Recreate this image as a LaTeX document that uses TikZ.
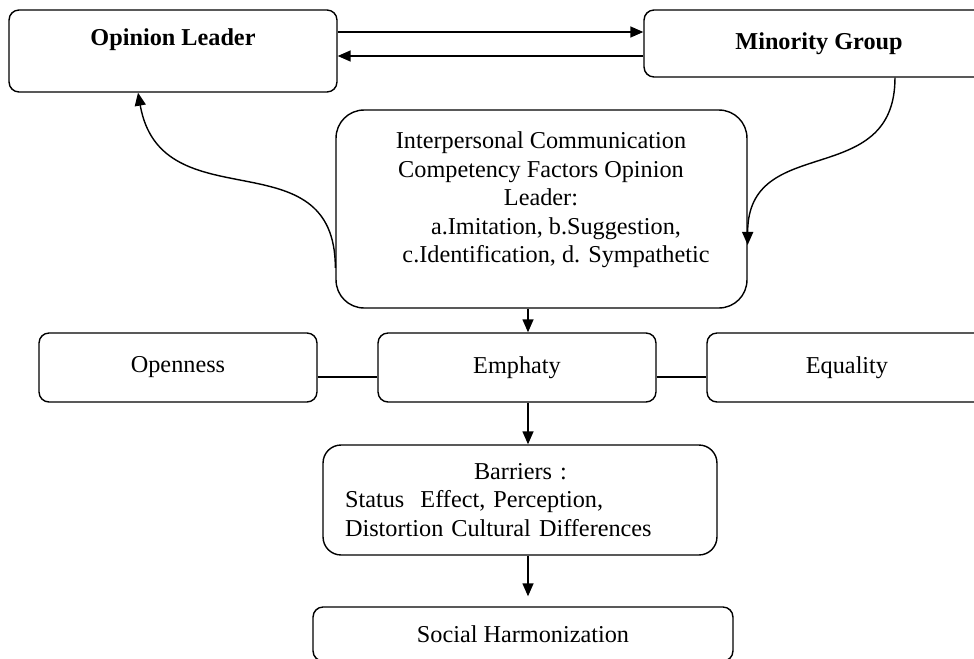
\documentclass[tikz,border=0pt]{standalone}
\usepackage{fontspec}
\setmainfont{Liberation Serif}
\usetikzlibrary{arrows.meta}

\tikzset{
	box/.style = {draw, line width=0.8pt, rounded corners=0.2cm, inner sep=0pt},
	arr/.style = {line width=0.8pt, -{Triangle[length=0.26cm, width=0.22cm]}},
	link/.style = {line width=0.8pt}
}

\begin{document}
\begin{tikzpicture}[x=0.02cm, y=-0.02cm, font=\fontsize{13.8}{16.2}\selectfont]
	\clip (0,0) rectangle (974,659);
	\coordinate (hi) at (0,32);
	\coordinate (lo) at (0,56);
	\coordinate (axis) at (528,0);

	\node [box, minimum width=6.56cm, minimum height=1.64cm] (leader) at (173,51) {};
	\node (leadertext) at (173,40) {\bfseries Opinion Leader};
	\node [box, minimum width=7cm, minimum height=1.34cm] (minority) at (819,43.5) {\bfseries Minority Group};

	\node [box, rounded corners=0.56cm, minimum width=8.22cm, minimum height=3.96cm] (factors) at (541.5,209) {};
	\node [align=center] (factorstext) at (541,200) {Interpersonal Communication\\
		Competency Factors Opinion\\
		Leader:\\
		\hspace*{0.6cm}a.Imitation, b.Suggestion,\\
		\hspace*{0.6cm}c.Identification, d. Sympathetic};

	\node [box, minimum width=5.56cm, minimum height=1.38cm] (open) at (178,367.5) {Openness};
	\node [box, minimum width=5.56cm, minimum height=1.38cm] (emph) at (517,367.5) {Emphaty};
	\node [box, minimum width=5.6cm, minimum height=1.38cm] (equal) at (847,367.5) {Equality};

	\node [box, rounded corners=0.36cm, text width=7cm, align=left, inner xsep=0.44cm,
		minimum height=2.2cm] (barriers) at (520,500) {\hspace*{2.58cm}Barriers :\\
		Status~ Effect, Perception,\\
		Distortion Cultural Differences};

	\node [box, minimum width=8.4cm, minimum height=1.08cm] (social) at (523,634) {Social Harmonization};

	% top exchange
	\draw [arr] (leader.east |- hi) -- (minority.west |- hi);
	\draw [arr] (minority.west |- lo) -- (leader.east |- lo);

	% side curves
	\draw [arr] ([yshift=-1.18cm]factors.west) to[out=90, in=-80, looseness=1.3] ([xshift=-0.7cm]leader.south);
	\draw [arr] ([xshift=1.52cm]minority.south) to[out=-90, in=90, looseness=1.3] ([yshift=-0.72cm]factors.east);

	% middle row
	\draw [link] ([yshift=-0.19cm]open.east) -- ([yshift=-0.19cm]emph.west);
	\draw [link] ([yshift=-0.19cm]emph.east) -- ([yshift=-0.19cm]equal.west);

	% down the axis
	\draw [arr] (factors.south -| axis) -- (emph.north -| axis);
	\draw [arr] (emph.south -| axis) -- (barriers.north -| axis);
	\draw [arr, shorten >=0.2cm] (barriers.south -| axis) -- (social.north -| axis);

\end{tikzpicture}
\end{document}
